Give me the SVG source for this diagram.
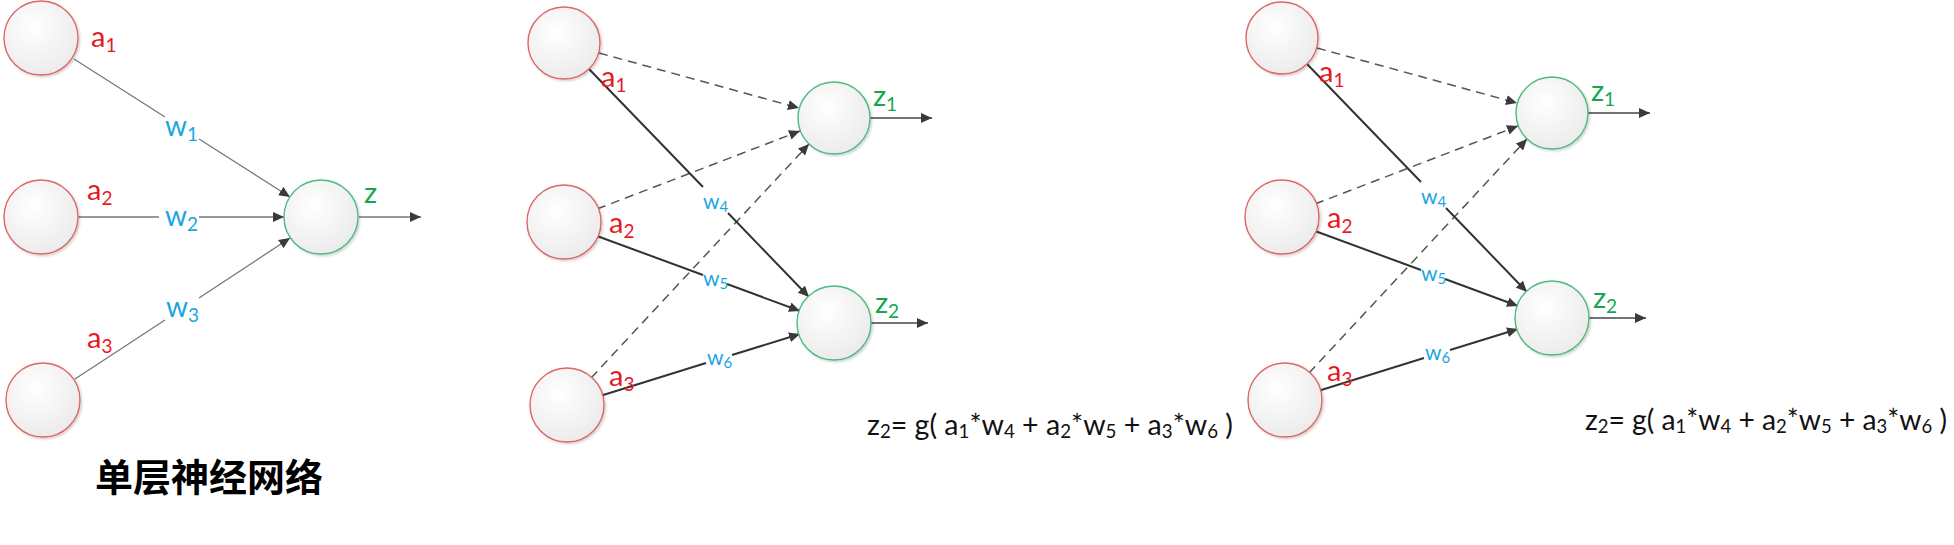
<svg xmlns="http://www.w3.org/2000/svg" width="1954" height="545" viewBox="0 0 1954 545">
<defs>
<radialGradient id="fillg" cx="0.4" cy="0.35" r="0.75">
<stop offset="0" stop-color="#ffffff"/>
<stop offset="1" stop-color="#e9e9e9"/>
</radialGradient>
<filter id="sh" x="-20%" y="-20%" width="140%" height="140%">
<feDropShadow dx="1.5" dy="1.5" stdDeviation="1.2" flood-color="#000" flood-opacity="0.18"/>
</filter>
<marker id="ah" markerUnits="userSpaceOnUse" markerWidth="12" markerHeight="10" refX="11" refY="5" orient="auto">
<path d="M0,0 L11,5 L0,10 Z" fill="#3a3a3a"/>
</marker>
<style>
.in{fill:url(#fillg);stroke:#e06666;stroke-width:1.4;filter:url(#sh)}
.out{fill:url(#fillg);stroke:#4cbb80;stroke-width:1.4;filter:url(#sh)}
.t{font-family:Lato,"Open Sans","Liberation Sans",sans-serif}
.ra{fill:#e8191f;font-size:29px}
.wb{fill:#1ba6e0;font-size:28px}
.ws{fill:#1ba6e0;font-size:21px}
.gz{fill:#14a650;font-size:29px}
.sub{font-size:19px}
.thin{fill:none;stroke:#777;stroke-width:1.3}
.solid{fill:none;stroke:#333;stroke-width:2}
.dash{fill:none;stroke:#555;stroke-width:1.5;stroke-dasharray:9 6}
.arr{marker-end:url(#ah)}
.f{font-family:Lato,"Open Sans","Liberation Sans",sans-serif;font-size:29px;fill:#111}
.title{font-family:"Noto Sans CJK SC","Noto Sans CJK TC",sans-serif;font-size:38px;font-weight:bold;fill:#000}
</style>
</defs>
<rect width="1954" height="545" fill="#fff"/>

<!-- Panel 1 -->
<g id="p1-connectors">
<path class="thin arr" d="M74,59 L165,117 M199,139 L290,197"/>
<path class="thin arr" d="M78,217 L159,217 M199,217 L284,217"/>
<path class="thin arr" d="M75,379 L165,320 M199,298 L290,238"/>
<path class="thin arr" d="M359,217 L421,217"/>
</g>
<g id="p1-a1"><circle class="in" cx="41" cy="38" r="37"/><text class="t ra" x="91" y="47">a<tspan class="sub" dy="5">1</tspan></text></g>
<g id="p1-a2"><circle class="in" cx="41" cy="217" r="37"/><text class="t ra" x="87" y="200">a<tspan class="sub" dy="5">2</tspan></text></g>
<g id="p1-a3"><circle class="in" cx="43" cy="400" r="37"/><text class="t ra" x="87" y="348">a<tspan class="sub" dy="5">3</tspan></text></g>
<g id="p1-z"><circle class="out" cx="321" cy="217" r="37"/><text class="t gz" x="364" y="203">z</text></g>
<g id="p1-w">
<text class="t wb" x="165" y="136">w<tspan class="sub" dy="5">1</tspan></text>
<text class="t wb" x="165" y="226">w<tspan class="sub" dy="5">2</tspan></text>
<text class="t wb" x="166" y="317">w<tspan class="sub" dy="5">3</tspan></text>
</g>
<text id="title" class="title" x="95" y="491">单层神经网络</text>

<!-- Panel 2 -->
<g id="p2">
<g id="p2-connectors">
<path class="dash arr" d="M599,53 L799,108"/>
<path class="dash arr" d="M597,209 L800,131"/>
<path class="dash arr" d="M591,378 L809,144"/>
<path class="solid arr" d="M589,69 L703,187 M728,213 L809,297"/>
<path class="solid arr" d="M597,236 L703,275 M727,284 L800,311"/>
<path class="solid arr" d="M600,396 L706,363 M732,355 L800,334"/>
<path class="thin arr" style="stroke:#444" d="M870,118 L932,118"/>
<path class="thin arr" style="stroke:#444" d="M870,323 L928,323"/>
</g>
<g id="p2-a1"><circle class="in" cx="564" cy="43" r="36"/><text class="t ra" x="601" y="87">a<tspan class="sub" dy="5">1</tspan></text></g>
<g id="p2-a2"><circle class="in" cx="564" cy="222" r="37"/><text class="t ra" x="609" y="233">a<tspan class="sub" dy="5">2</tspan></text></g>
<g id="p2-a3"><circle class="in" cx="567" cy="405" r="37"/><text class="t ra" x="609" y="386">a<tspan class="sub" dy="5">3</tspan></text></g>
<g id="p2-z1"><circle class="out" cx="834" cy="118" r="36"/><text class="t gz" x="873" y="106">z<tspan class="sub" dy="5">1</tspan></text></g>
<g id="p2-z2"><circle class="out" cx="834" cy="323" r="37"/><text class="t gz" x="875" y="313">z<tspan class="sub" dy="5">2</tspan></text></g>
<g id="p2-w">
<text class="t ws" x="703" y="209">w<tspan font-size="15" dy="3">4</tspan></text>
<text class="t ws" x="703" y="286">w<tspan font-size="15" dy="3">5</tspan></text>
<text class="t ws" x="707" y="365">w<tspan font-size="15" dy="3">6</tspan></text>
</g>
<text id="p2-formula" class="f" x="867" y="435" textLength="366" lengthAdjust="spacingAndGlyphs">z<tspan font-size="19" dy="3">2</tspan><tspan dy="-3">= g( a</tspan><tspan font-size="19" dy="3">1</tspan><tspan dy="-3">*w</tspan><tspan font-size="19" dy="3">4</tspan><tspan dy="-3"> + a</tspan><tspan font-size="19" dy="3">2</tspan><tspan dy="-3">*w</tspan><tspan font-size="19" dy="3">5</tspan><tspan dy="-3"> + a</tspan><tspan font-size="19" dy="3">3</tspan><tspan dy="-3">*w</tspan><tspan font-size="19" dy="3">6</tspan><tspan dy="-3"> )</tspan></text>
</g>

<!-- Panel 3 -->
<g id="p3" transform="translate(718,-5)">
<g id="p3-connectors">
<path class="dash arr" d="M599,53 L799,108"/>
<path class="dash arr" d="M597,209 L800,131"/>
<path class="dash arr" d="M591,378 L809,144"/>
<path class="solid arr" d="M589,69 L703,187 M728,213 L809,297"/>
<path class="solid arr" d="M597,236 L703,275 M727,284 L800,311"/>
<path class="solid arr" d="M600,396 L706,363 M732,355 L800,334"/>
<path class="thin arr" style="stroke:#444" d="M870,118 L932,118"/>
<path class="thin arr" style="stroke:#444" d="M870,323 L928,323"/>
</g>
<g id="p3-a1"><circle class="in" cx="564" cy="43" r="36"/><text class="t ra" x="601" y="87">a<tspan class="sub" dy="5">1</tspan></text></g>
<g id="p3-a2"><circle class="in" cx="564" cy="222" r="37"/><text class="t ra" x="609" y="233">a<tspan class="sub" dy="5">2</tspan></text></g>
<g id="p3-a3"><circle class="in" cx="567" cy="405" r="37"/><text class="t ra" x="609" y="386">a<tspan class="sub" dy="5">3</tspan></text></g>
<g id="p3-z1"><circle class="out" cx="834" cy="118" r="36"/><text class="t gz" x="873" y="106">z<tspan class="sub" dy="5">1</tspan></text></g>
<g id="p3-z2"><circle class="out" cx="834" cy="323" r="37"/><text class="t gz" x="875" y="313">z<tspan class="sub" dy="5">2</tspan></text></g>
<g id="p3-w">
<text class="t ws" x="703" y="209">w<tspan font-size="15" dy="3">4</tspan></text>
<text class="t ws" x="703" y="286">w<tspan font-size="15" dy="3">5</tspan></text>
<text class="t ws" x="707" y="365">w<tspan font-size="15" dy="3">6</tspan></text>
</g>
<text id="p3-formula" class="f" x="867" y="435" textLength="362" lengthAdjust="spacingAndGlyphs">z<tspan font-size="19" dy="3">2</tspan><tspan dy="-3">= g( a</tspan><tspan font-size="19" dy="3">1</tspan><tspan dy="-3">*w</tspan><tspan font-size="19" dy="3">4</tspan><tspan dy="-3"> + a</tspan><tspan font-size="19" dy="3">2</tspan><tspan dy="-3">*w</tspan><tspan font-size="19" dy="3">5</tspan><tspan dy="-3"> + a</tspan><tspan font-size="19" dy="3">3</tspan><tspan dy="-3">*w</tspan><tspan font-size="19" dy="3">6</tspan><tspan dy="-3"> )</tspan></text>
</g>
</svg>
